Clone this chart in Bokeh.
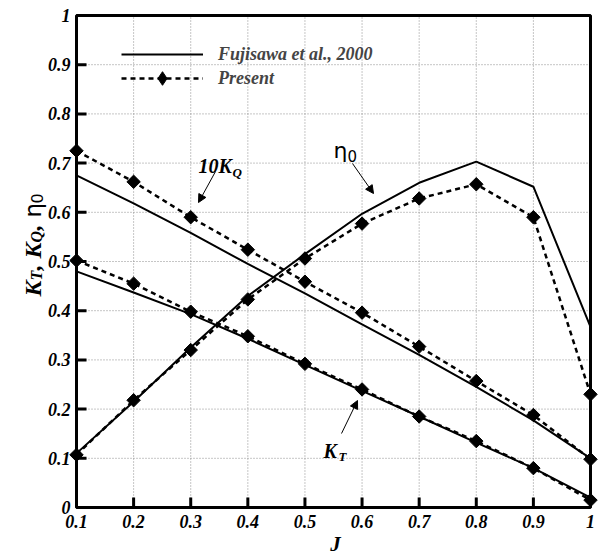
import math
from bokeh.plotting import figure
from bokeh.models import Range1d, Label, Arrow, NormalHead, Legend, LegendItem, BoxAnnotation
from bokeh.core.properties import value
from bokeh.embed import file_html
from bokeh.resources import INLINE

# ---------------- data ----------------
J = [0.1, 0.2, 0.3, 0.4, 0.5, 0.6, 0.7, 0.8, 0.9, 1.0]
kt_ref = [0.48, 0.437, 0.393, 0.343, 0.29, 0.237, 0.185, 0.132, 0.08, 0.02]
kt_present = [0.502, 0.455, 0.398, 0.348, 0.292, 0.24, 0.185, 0.135, 0.08, 0.015]
kq10_ref = [0.675, 0.618, 0.558, 0.495, 0.435, 0.372, 0.31, 0.245, 0.177, 0.10]
kq10_present = [0.725, 0.662, 0.59, 0.524, 0.459, 0.396, 0.327, 0.257, 0.188, 0.098]
eta_ref = [0.11, 0.215, 0.325, 0.43, 0.515, 0.597, 0.66, 0.703, 0.652, 0.367]
eta_present = [0.107, 0.218, 0.32, 0.423, 0.506, 0.577, 0.628, 0.657, 0.59, 0.23]
x_ticks = [0.1, 0.2, 0.3, 0.4, 0.5, 0.6, 0.7, 0.8, 0.9, 1.0]
x_tick_labels = ["0.1", "0.2", "0.3", "0.4", "0.5", "0.6", "0.7", "0.8", "0.9", "1"]
y_ticks = [0.0, 0.1, 0.2, 0.3, 0.4, 0.5, 0.6, 0.7, 0.8, 0.9, 1.0]
y_tick_labels = ["0", "0.1", "0.2", "0.3", "0.4", "0.5", "0.6", "0.7", "0.8", "0.9", "1"]
ref_label = "Fujisawa et al., 2000"
present_label = "Present"

# ---------------- layout (screen pixels of the plot box) ----------------
W, H = 598, 555
LEFT, RIGHT, TOP, BOTTOM = 76, 590, 15, 507
SERIF = "Liberation Serif"
SANS = "DejaVu Sans"
XSPAN = x_ticks[-1] - x_ticks[0]
YSPAN = y_ticks[-1] - y_ticks[0]


def dx(sx):
    return x_ticks[0] + (sx - LEFT) / (RIGHT - LEFT) * XSPAN


def dy(sy):
    return y_ticks[0] + (BOTTOM - sy) / (BOTTOM - TOP) * YSPAN


# the frame covers the whole canvas; the data box sits inside it
p = figure(width=W, height=H, x_range=Range1d(dx(0), dx(W)), y_range=Range1d(dy(H), dy(0)),
           output_backend="svg", toolbar_location=None, min_border=0,
           x_axis_location=None, y_axis_location=None)
p.grid.visible = False
p.outline_line_color = None
p.background_fill_color = "white"
p.border_fill_color = "white"

# grid (dotted)
p.segment(x0=x_ticks[1:-1], y0=y_ticks[0], x1=x_ticks[1:-1], y1=y_ticks[-1],
          line_color="#8c8c8c", line_width=1, line_dash="1 2")
p.segment(x0=x_ticks[0], y0=y_ticks[1:-1], x1=x_ticks[-1], y1=y_ticks[1:-1],
          line_color="#8c8c8c", line_width=1, line_dash="1 2")

# ---------------- series ----------------
def solid(y):
    return p.line(J, y, line_color="black", line_width=2)


def dashed(y):
    ln = p.line(J, y, line_color="black", line_width=2.5, line_dash="5 4")
    sc = p.scatter(J, y, marker="square", angle=math.pi / 4, size=9.5,
                   fill_color="black", line_color="black")
    return ln, sc


r_ref = solid(kt_ref)
solid(kq10_ref)
solid(eta_ref)
r_dash, r_sc = dashed(kt_present)
dashed(kq10_present)
dashed(eta_present)
# marker used only for the legend key (legend keys are drawn unrotated)
r_key = p.scatter(J, kt_present, marker="diamond", size=14, fill_color="black",
                  line_color="black", visible=False)

# ---------------- axes: ticks (inward), tick labels, box ----------------
TLX = 10 / (RIGHT - LEFT) * XSPAN
TLY = 10 / (BOTTOM - TOP) * YSPAN
p.segment(x0=x_ticks, y0=y_ticks[0], x1=x_ticks, y1=y_ticks[0] + TLY,
          line_color="black", line_width=3)
p.segment(x0=x_ticks[0], y0=y_ticks, x1=x_ticks[0] + TLX, y1=y_ticks,
          line_color="black", line_width=3)
p.text(x=x_ticks, y=dy(BOTTOM + 7), text=x_tick_labels, text_align="center",
       text_baseline="top", text_font=value(SERIF), text_font_style="bold italic",
       text_font_size="18px", text_color="black")
p.text(x=dx(LEFT - 6), y=y_ticks, text=y_tick_labels, text_align="right",
       text_baseline="middle", text_font=value(SERIF), text_font_style="bold italic",
       text_font_size="18px", text_color="black")
p.add_layout(BoxAnnotation(left=x_ticks[0], right=x_ticks[-1], bottom=y_ticks[0],
                           top=y_ticks[-1], fill_alpha=0, line_color="black",
                           line_width=3, line_alpha=1))

# ---------------- legend ----------------
common = dict(glyph_width=82, spacing=0, padding=0, margin=0, label_standoff=15,
              label_text_font=SERIF, label_text_font_style="bold italic",
              label_text_font_size="18px", border_line_alpha=0,
              background_fill_alpha=0, inactive_fill_alpha=0)
leg1 = Legend(items=[LegendItem(label=ref_label, renderers=[r_ref])],
              location=(121, H - 66), glyph_height=24, label_height=24, **common)
leg2 = Legend(items=[LegendItem(label=present_label, renderers=[r_dash, r_key])],
              location=(121, H - 95), glyph_height=34, label_height=34, **common)
p.add_layout(leg1, "center")
p.add_layout(leg2, "center")

# ---------------- annotations ----------------
def lab(sx, sy, text, font=SERIF, size=20, style="bold italic", angle=0.0, align="left"):
    p.add_layout(Label(x=dx(sx), y=dy(sy), text=text, text_font=font,
                       text_font_style=style, text_font_size=f"{size}px",
                       text_baseline="alphabetic", text_align=align, angle=angle,
                       text_color="black"))


def arrow(x0, y0, x1, y1):
    p.add_layout(Arrow(x_start=dx(x0), y_start=dy(y0), x_end=dx(x1), y_end=dy(y1),
                       line_color="black", line_width=1,
                       end=NormalHead(size=8, fill_color="black", line_color="black")))


# 10K_Q
lab(198, 165, "10K")
lab(232, 172, "Q", size=13)
arrow(215, 171, 198, 202)
# eta_0
lab(333, 150, "η", font=SANS, size=22, style="normal")
lab(347, 155, "0", font=SANS, size=15, style="normal")
arrow(352, 163, 373, 193)
# K_T
lab(323, 450, "K")
lab(338, 456, "T", size=13)
arrow(341, 433, 357, 400)

# x-axis title
lab(335, 543, "J", size=21, align="center")

# y-axis title (rotated, reading upward)
A = math.pi / 2
bx, sbx = 32, 36
lab(bx, 296, "K", size=24, angle=A)
lab(sbx, 280, "T", size=16, angle=A)
lab(bx, 270, ",", size=24, angle=A)
lab(bx, 258, "K", size=24, angle=A)
lab(sbx, 242, "Q", size=16, angle=A)
lab(bx, 230, ",", size=24, angle=A)
lab(bx, 217, "η", font=SANS, size=23, style="normal", angle=A)
lab(sbx, 203, "0", font=SANS, size=16, style="normal", angle=A)

open("out.html", "w").write(file_html(p, INLINE))
